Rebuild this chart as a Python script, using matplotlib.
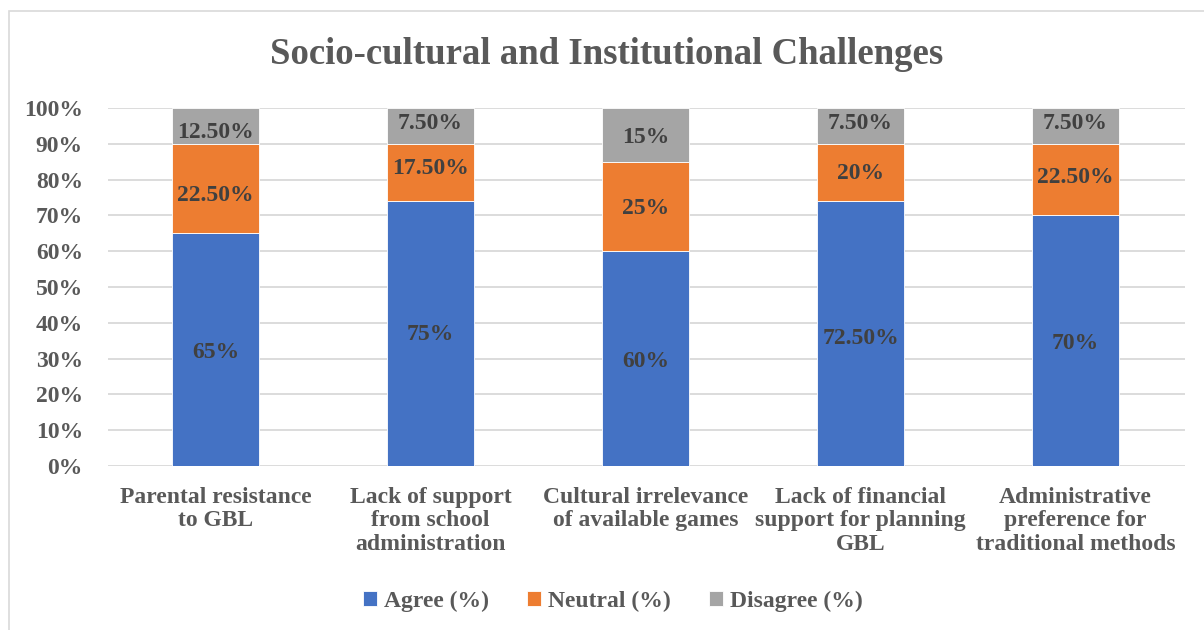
import matplotlib.pyplot as plt
from matplotlib.patches import Rectangle

categories = ["Parental resistance\nto GBL",
              "Lack of support\nfrom school\nadministration",
              "Cultural irrelevance\nof available games",
              "Lack of financial\nsupport for planning\nGBL",
              "Administrative\npreference for\ntraditional methods"]
# segment heights as drawn in the picture
agree = [65, 74, 60, 74, 70]
neutral = [25, 16, 25, 16, 20]
disagree = [10, 10, 15, 10, 10]
# reported values (the data labels)
agree_val = [65, 75, 60, 72.5, 70]
neutral_val = [22.5, 17.5, 25, 20, 22.5]
disagree_val = [12.5, 7.5, 15, 7.5, 7.5]
agree_lbl = ["65%", "75%", "60%", "72.50%", "70%"]
neutral_lbl = ["22.50%", "17.50%", "25%", "20%", "22.50%"]
disagree_lbl = ["12.50%", "7.50%", "15%", "7.50%", "7.50%"]

plt.rcParams['font.family'] = ['Liberation Serif', 'DejaVu Serif']
plt.rcParams['font.weight'] = 'bold'

fig = plt.figure(figsize=(12.04, 6.30), dpi=100)
ax = fig.add_axes([108/1204, 1-466/630, 1077/1204, 358/630])

# chart border (cropped at right and bottom)
fig.patches.append(Rectangle((9/1204, -0.1), 1.2, 1-11/630+0.1, transform=fig.transFigure,
                             fill=False, edgecolor='#D9D9D9', lw=1.2))

x = range(len(categories))
w = 0.405
bottoms2 = [a + n for a, n in zip(agree, neutral)]
ax.bar(x, agree, w, color='#4472C4', edgecolor='white', lw=0.6, label='Agree (%)', zorder=3)
ax.bar(x, neutral, w, bottom=agree, color='#ED7D31', edgecolor='white', lw=0.6, label='Neutral (%)', zorder=3)
ax.bar(x, disagree, w, bottom=bottoms2, color='#A5A5A5', edgecolor='white', lw=0.6, label='Disagree (%)', zorder=3)

# labels sit at the centre of the reported-value segments
for i in x:
    base = 0
    for val, lbl in [(agree_val[i], agree_lbl[i]), (neutral_val[i], neutral_lbl[i]),
                     (disagree_val[i], disagree_lbl[i])]:
        ax.text(i, base + val / 2, lbl, ha='center', va='center_baseline', fontsize=17,
                fontweight='bold', color='#404040', zorder=4)
        base += val

ax.set_xlim(-0.5, 4.5 + 2/215)
ax.set_ylim(0, 100)
ax.set_yticks(range(0, 101, 10))
ax.set_yticklabels([f"{v}%" for v in range(0, 101, 10)])
ax.set_xticks(list(x))
ax.set_xticklabels(categories, linespacing=1.15)
ax.tick_params(axis='both', length=0, labelsize=17, labelcolor='#595959')
ax.tick_params(axis='x', pad=15)
ax.tick_params(axis='y', pad=18)
ax.grid(axis='y', color='#D9D9D9', lw=1.3, zorder=0)
for s in ax.spines.values():
    s.set_visible(False)

fig.text(607/1204, 1-55/630, "Socio-cultural and Institutional Challenges", ha='center', va='center',
         fontsize=26.5, fontweight='bold', color='#595959')

fig.legend(loc='center', bbox_to_anchor=(613/1204, 1-601/630), ncol=3, frameon=False,
           fontsize=17, labelcolor='#595959', handlelength=0.6, handleheight=0.6,
           handletextpad=0.3, columnspacing=1.6)

fig.savefig('out.png', dpi=100)
